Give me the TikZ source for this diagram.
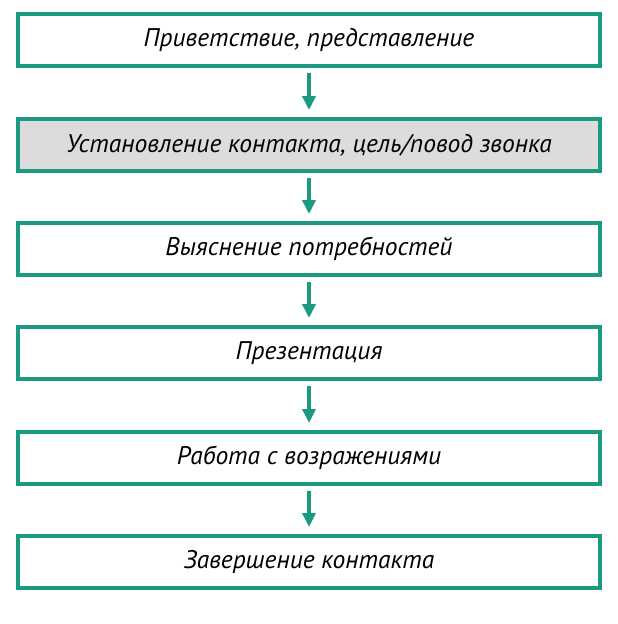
\documentclass[tikz,border=0pt]{standalone}
\usepackage{fontspec}
\setmainfont{PT Sans}
\usetikzlibrary{arrows.meta}
\definecolor{tl}{HTML}{1A9A80}
\definecolor{gr}{HTML}{DCDCDC}
\begin{document}
\begin{tikzpicture}[x=1pt,y=1pt,
  stepbox/.style={draw=tl,line width=4pt,minimum width=582pt,minimum height=52pt,inner sep=0pt,font=\itshape\fontsize{25.5}{28}\selectfont},
  arr/.style={draw=tl,line width=3.5pt,-{Triangle[width=13pt,length=14pt]}}]
\useasboundingbox (0,0) rectangle (618,-624);
\node[stepbox] (b1) at (309,-40) {Приветствие, представление};
\node[stepbox,fill=gr] (b2) at (309,-145) {Установление контакта, цель/повод звонка};
\node[stepbox] (b3) at (309,-249) {Выяснение потребностей};
\node[stepbox] (b4) at (309,-353) {Презентация};
\node[stepbox] (b5) at (309,-458) {Работа с возражениями};
\node[stepbox] (b6) at (309,-562) {Завершение контакта};
\foreach \a/\b in {b1/b2,b2/b3,b3/b4,b4/b5,b5/b6}
  \draw[arr] ([yshift=-5pt]\a.south) -- ([yshift=7pt]\b.north);
\end{tikzpicture}
\end{document}
